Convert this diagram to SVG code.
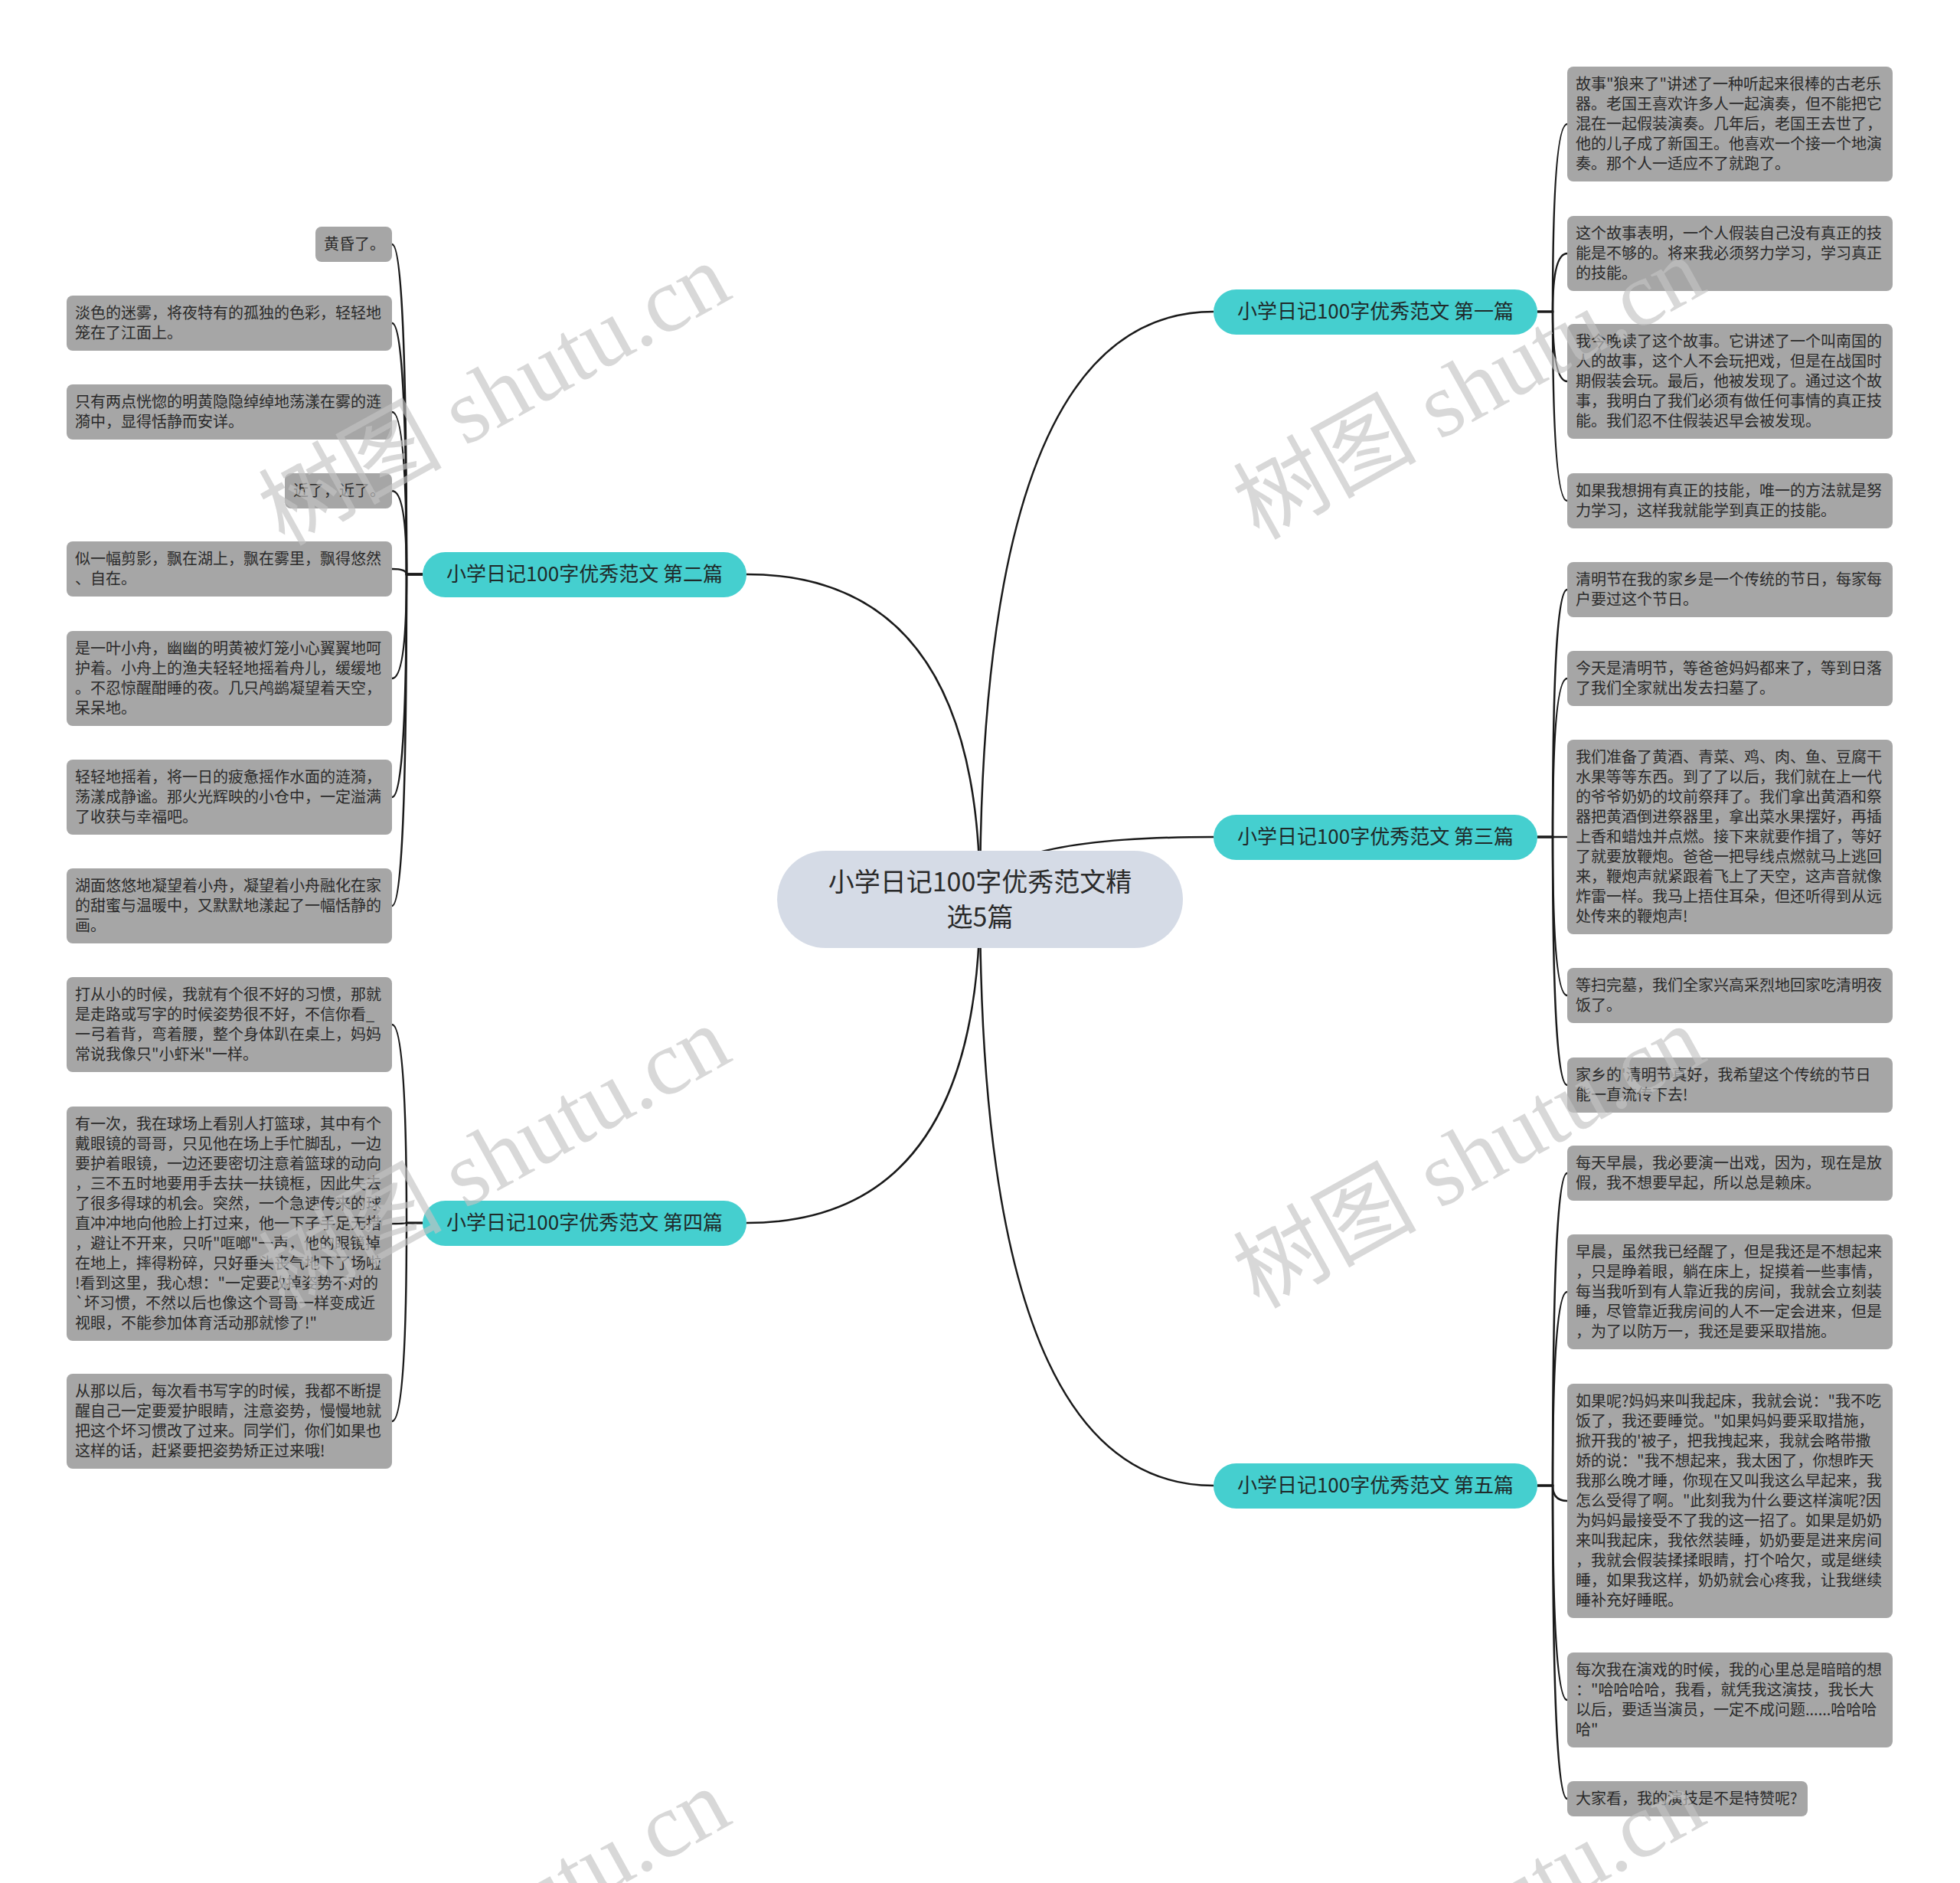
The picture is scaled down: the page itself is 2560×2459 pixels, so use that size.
<svg xmlns="http://www.w3.org/2000/svg" width="2560" height="2459" viewBox="0 0 2560 2459">
<style>
.bg{fill:#ffffff}
.leaf{fill:#a6a6a6}
.lt{font-family:"Noto Sans CJK SC","Noto Sans",sans-serif;font-size:20px;fill:#2a2a2a}
.l1{fill:#45cfcf}
.l1t{font-family:"Noto Sans CJK SC","Noto Sans",sans-serif;font-size:26px;fill:#1f2a2a;text-anchor:middle}
.root{fill:#d5dbe6}
.rt{font-family:"Noto Sans CJK SC","Noto Sans",sans-serif;font-size:34px;fill:#2a2a2a;text-anchor:middle}
.con{fill:none;stroke:#1a1a1a;stroke-width:2.5}
.wm{font-family:"Liberation Serif","Noto Sans CJK SC",serif;font-size:120px;fill:#c4c4c4;opacity:0.65;text-anchor:middle}
</style>
<rect class="bg" x="0" y="0" width="2560" height="2459"/>
<g id="connectors">
<path class="con" d="M1280 1174 Q1280 407 1585 407"/>
<path class="con" d="M1280 1174 Q1280 750 975 750"/>
<path class="con" d="M1280 1174 Q1280 1093 1585 1093"/>
<path class="con" d="M1280 1174 Q1280 1597 975 1597"/>
<path class="con" d="M1280 1174 Q1280 1940 1585 1940"/>
<path class="con" d="M2008 407 H2028 Q2028 162 2047 162"/>
<path class="con" d="M2008 407 H2028 Q2028 331 2047 331"/>
<path class="con" d="M2008 407 H2028 Q2028 498 2047 498"/>
<path class="con" d="M2008 407 H2028 Q2028 654 2047 654"/>
<path class="con" d="M2008 1093 H2028 Q2028 770 2047 770"/>
<path class="con" d="M2008 1093 H2028 Q2028 886 2047 886"/>
<path class="con" d="M2008 1093 H2047"/>
<path class="con" d="M2008 1093 H2028 Q2028 1300 2047 1300"/>
<path class="con" d="M2008 1093 H2028 Q2028 1417 2047 1417"/>
<path class="con" d="M2008 1940 H2028 Q2028 1532 2047 1532"/>
<path class="con" d="M2008 1940 H2028 Q2028 1687 2047 1687"/>
<path class="con" d="M2008 1940 H2028 Q2028 1960 2047 1960"/>
<path class="con" d="M2008 1940 H2028 Q2028 2220 2047 2220"/>
<path class="con" d="M2008 1940 H2028 Q2028 2349 2047 2349"/>
<path class="con" d="M552 750 H531 Q531 319 512 319"/>
<path class="con" d="M552 750 H531 Q531 422 512 422"/>
<path class="con" d="M552 750 H531 Q531 538 512 538"/>
<path class="con" d="M552 750 H531 Q531 641 512 641"/>
<path class="con" d="M552 750 H531 Q531 743 512 743"/>
<path class="con" d="M552 750 H531 Q531 886 512 886"/>
<path class="con" d="M552 750 H531 Q531 1041 512 1041"/>
<path class="con" d="M552 750 H531 Q531 1183 512 1183"/>
<path class="con" d="M552 1597 H531 Q531 1338 512 1338"/>
<path class="con" d="M552 1597 H531 Q531 1598 512 1598"/>
<path class="con" d="M552 1597 H531 Q531 1856 512 1856"/>
</g>
<g id="root">
<rect class="root" x="1015" y="1111" width="530" height="127" rx="63.5"/>
<text class="rt" x="1280" y="1164">小学日记100字优秀范文精</text>
<text class="rt" x="1280" y="1210">选5篇</text>
</g>
<g id="b1">
<rect class="l1" x="1585" y="378" width="423" height="59" rx="29.5"/>
<text class="l1t" x="1796.5" y="416">小学日记100字优秀范文 第一篇</text>
</g>
<g id="b2">
<rect class="l1" x="552" y="721" width="423" height="59" rx="29.5"/>
<text class="l1t" x="763.5" y="759">小学日记100字优秀范文 第二篇</text>
</g>
<g id="b3">
<rect class="l1" x="1585" y="1064" width="423" height="59" rx="29.5"/>
<text class="l1t" x="1796.5" y="1102">小学日记100字优秀范文 第三篇</text>
</g>
<g id="b4">
<rect class="l1" x="552" y="1568" width="423" height="59" rx="29.5"/>
<text class="l1t" x="763.5" y="1606">小学日记100字优秀范文 第四篇</text>
</g>
<g id="b5">
<rect class="l1" x="1585" y="1911" width="423" height="59" rx="29.5"/>
<text class="l1t" x="1796.5" y="1949">小学日记100字优秀范文 第五篇</text>
</g>
<g id="r1"><rect class="leaf" x="2047" y="87" width="425" height="150" rx="8"/>
<text class="lt" x="2058" y="117"><tspan x="2058">故事"狼来了"讲述了一种听起来很棒的古老乐</tspan><tspan x="2058" dy="26">器。老国王喜欢许多人一起演奏，但不能把它</tspan><tspan x="2058" dy="26">混在一起假装演奏。几年后，老国王去世了，</tspan><tspan x="2058" dy="26">他的儿子成了新国王。他喜欢一个接一个地演</tspan><tspan x="2058" dy="26">奏。那个人一适应不了就跑了。</tspan></text></g>
<g id="r2"><rect class="leaf" x="2047" y="282" width="425" height="98" rx="8"/>
<text class="lt" x="2058" y="312"><tspan x="2058">这个故事表明，一个人假装自己没有真正的技</tspan><tspan x="2058" dy="26">能是不够的。将来我必须努力学习，学习真正</tspan><tspan x="2058" dy="26">的技能。</tspan></text></g>
<g id="r3"><rect class="leaf" x="2047" y="423" width="425" height="150" rx="8"/>
<text class="lt" x="2058" y="453"><tspan x="2058">我今晚读了这个故事。它讲述了一个叫南国的</tspan><tspan x="2058" dy="26">人的故事，这个人不会玩把戏，但是在战国时</tspan><tspan x="2058" dy="26">期假装会玩。最后，他被发现了。通过这个故</tspan><tspan x="2058" dy="26">事，我明白了我们必须有做任何事情的真正技</tspan><tspan x="2058" dy="26">能。我们忍不住假装迟早会被发现。</tspan></text></g>
<g id="r4"><rect class="leaf" x="2047" y="618" width="425" height="72" rx="8"/>
<text class="lt" x="2058" y="648"><tspan x="2058">如果我想拥有真正的技能，唯一的方法就是努</tspan><tspan x="2058" dy="26">力学习，这样我就能学到真正的技能。</tspan></text></g>
<g id="r5"><rect class="leaf" x="2047" y="734" width="425" height="72" rx="8"/>
<text class="lt" x="2058" y="764"><tspan x="2058">清明节在我的家乡是一个传统的节日，每家每</tspan><tspan x="2058" dy="26">户要过这个节日。</tspan></text></g>
<g id="r6"><rect class="leaf" x="2047" y="850" width="425" height="72" rx="8"/>
<text class="lt" x="2058" y="880"><tspan x="2058">今天是清明节，等爸爸妈妈都来了，等到日落</tspan><tspan x="2058" dy="26">了我们全家就出发去扫墓了。</tspan></text></g>
<g id="r7"><rect class="leaf" x="2047" y="966" width="425" height="254" rx="8"/>
<text class="lt" x="2058" y="996"><tspan x="2058">我们准备了黄酒、青菜、鸡、肉、鱼、豆腐干</tspan><tspan x="2058" dy="26">水果等等东西。到了了以后，我们就在上一代</tspan><tspan x="2058" dy="26">的爷爷奶奶的坟前祭拜了。我们拿出黄酒和祭</tspan><tspan x="2058" dy="26">器把黄酒倒进祭器里，拿出菜水果摆好，再插</tspan><tspan x="2058" dy="26">上香和蜡烛并点燃。接下来就要作揖了，等好</tspan><tspan x="2058" dy="26">了就要放鞭炮。爸爸一把导线点燃就马上逃回</tspan><tspan x="2058" dy="26">来，鞭炮声就紧跟着飞上了天空，这声音就像</tspan><tspan x="2058" dy="26">炸雷一样。我马上捂住耳朵，但还听得到从远</tspan><tspan x="2058" dy="26">处传来的鞭炮声!</tspan></text></g>
<g id="r8"><rect class="leaf" x="2047" y="1264" width="425" height="72" rx="8"/>
<text class="lt" x="2058" y="1294"><tspan x="2058">等扫完墓，我们全家兴高采烈地回家吃清明夜</tspan><tspan x="2058" dy="26">饭了。</tspan></text></g>
<g id="r9"><rect class="leaf" x="2047" y="1381" width="425" height="72" rx="8"/>
<text class="lt" x="2058" y="1411"><tspan x="2058">家乡的'清明节真好，我希望这个传统的节日</tspan><tspan x="2058" dy="26">能一直流传下去!</tspan></text></g>
<g id="r10"><rect class="leaf" x="2047" y="1496" width="425" height="72" rx="8"/>
<text class="lt" x="2058" y="1526"><tspan x="2058">每天早晨，我必要演一出戏，因为，现在是放</tspan><tspan x="2058" dy="26">假，我不想要早起，所以总是赖床。</tspan></text></g>
<g id="r11"><rect class="leaf" x="2047" y="1612" width="425" height="150" rx="8"/>
<text class="lt" x="2058" y="1642"><tspan x="2058">早晨，虽然我已经醒了，但是我还是不想起来</tspan><tspan x="2058" dy="26">，只是睁着眼，躺在床上，捉摸着一些事情，</tspan><tspan x="2058" dy="26">每当我听到有人靠近我的房间，我就会立刻装</tspan><tspan x="2058" dy="26">睡，尽管靠近我房间的人不一定会进来，但是</tspan><tspan x="2058" dy="26">，为了以防万一，我还是要采取措施。</tspan></text></g>
<g id="r12"><rect class="leaf" x="2047" y="1807" width="425" height="306" rx="8"/>
<text class="lt" x="2058" y="1837"><tspan x="2058">如果呢?妈妈来叫我起床，我就会说："我不吃</tspan><tspan x="2058" dy="26">饭了，我还要睡觉。"如果妈妈要采取措施，</tspan><tspan x="2058" dy="26">掀开我的'被子，把我拽起来，我就会略带撒</tspan><tspan x="2058" dy="26">娇的说："我不想起来，我太困了，你想昨天</tspan><tspan x="2058" dy="26">我那么晚才睡，你现在又叫我这么早起来，我</tspan><tspan x="2058" dy="26">怎么受得了啊。"此刻我为什么要这样演呢?因</tspan><tspan x="2058" dy="26">为妈妈最接受不了我的这一招了。如果是奶奶</tspan><tspan x="2058" dy="26">来叫我起床，我依然装睡，奶奶要是进来房间</tspan><tspan x="2058" dy="26">，我就会假装揉揉眼睛，打个哈欠，或是继续</tspan><tspan x="2058" dy="26">睡，如果我这样，奶奶就会心疼我，让我继续</tspan><tspan x="2058" dy="26">睡补充好睡眠。</tspan></text></g>
<g id="r13"><rect class="leaf" x="2047" y="2158" width="425" height="124" rx="8"/>
<text class="lt" x="2058" y="2188"><tspan x="2058">每次我在演戏的时候，我的心里总是暗暗的想</tspan><tspan x="2058" dy="26">："哈哈哈哈，我看，就凭我这演技，我长大</tspan><tspan x="2058" dy="26">以后，要适当演员，一定不成问题......哈哈哈</tspan><tspan x="2058" dy="26">哈"</tspan></text></g>
<g id="r14"><rect class="leaf" x="2047" y="2326" width="314" height="46" rx="8"/>
<text class="lt" x="2058" y="2356">大家看，我的演技是不是特赞呢?</text></g>
<g id="l1"><rect class="leaf" x="412" y="296" width="100" height="46" rx="8"/>
<text class="lt" x="423" y="326">黄昏了。</text></g>
<g id="l2"><rect class="leaf" x="87" y="386" width="425" height="72" rx="8"/>
<text class="lt" x="98" y="416"><tspan x="98">淡色的迷雾，将夜特有的孤独的色彩，轻轻地</tspan><tspan x="98" dy="26">笼在了江面上。</tspan></text></g>
<g id="l3"><rect class="leaf" x="87" y="502" width="425" height="72" rx="8"/>
<text class="lt" x="98" y="532"><tspan x="98">只有两点恍惚的明黄隐隐绰绰地荡漾在雾的涟</tspan><tspan x="98" dy="26">漪中，显得恬静而安详。</tspan></text></g>
<g id="l4"><rect class="leaf" x="372" y="618" width="140" height="46" rx="8"/>
<text class="lt" x="383" y="648">近了，近了。</text></g>
<g id="l5"><rect class="leaf" x="87" y="707" width="425" height="72" rx="8"/>
<text class="lt" x="98" y="737"><tspan x="98">似一幅剪影，飘在湖上，飘在雾里，飘得悠然</tspan><tspan x="98" dy="26">、自在。</tspan></text></g>
<g id="l6"><rect class="leaf" x="87" y="824" width="425" height="124" rx="8"/>
<text class="lt" x="98" y="854"><tspan x="98">是一叶小舟，幽幽的明黄被灯笼小心翼翼地呵</tspan><tspan x="98" dy="26">护着。小舟上的渔夫轻轻地摇着舟儿，缓缓地</tspan><tspan x="98" dy="26">。不忍惊醒酣睡的夜。几只鸬鹚凝望着天空，</tspan><tspan x="98" dy="26">呆呆地。</tspan></text></g>
<g id="l7"><rect class="leaf" x="87" y="992" width="425" height="98" rx="8"/>
<text class="lt" x="98" y="1022"><tspan x="98">轻轻地摇着，将一日的疲惫摇作水面的涟漪，</tspan><tspan x="98" dy="26">荡漾成静谧。那火光辉映的小仓中，一定溢满</tspan><tspan x="98" dy="26">了收获与幸福吧。</tspan></text></g>
<g id="l8"><rect class="leaf" x="87" y="1134" width="425" height="98" rx="8"/>
<text class="lt" x="98" y="1164"><tspan x="98">湖面悠悠地凝望着小舟，凝望着小舟融化在家</tspan><tspan x="98" dy="26">的甜蜜与温暖中，又默默地漾起了一幅恬静的</tspan><tspan x="98" dy="26">画。</tspan></text></g>
<g id="l9"><rect class="leaf" x="87" y="1276" width="425" height="124" rx="8"/>
<text class="lt" x="98" y="1306"><tspan x="98">打从小的时候，我就有个很不好的习惯，那就</tspan><tspan x="98" dy="26">是走路或写字的时候姿势很不好，不信你看_</tspan><tspan x="98" dy="26">一弓着背，弯着腰，整个身体趴在桌上，妈妈</tspan><tspan x="98" dy="26">常说我像只"小虾米"一样。</tspan></text></g>
<g id="l10"><rect class="leaf" x="87" y="1445" width="425" height="306" rx="8"/>
<text class="lt" x="98" y="1475"><tspan x="98">有一次，我在球场上看别人打篮球，其中有个</tspan><tspan x="98" dy="26">戴眼镜的哥哥，只见他在场上手忙脚乱，一边</tspan><tspan x="98" dy="26">要护着眼镜，一边还要密切注意着篮球的动向</tspan><tspan x="98" dy="26">，三不五时地要用手去扶一扶镜框，因此失去</tspan><tspan x="98" dy="26">了很多得球的机会。突然，一个急速传来的球</tspan><tspan x="98" dy="26">直冲冲地向他脸上打过来，他一下子手足无措</tspan><tspan x="98" dy="26">，避让不开来，只听"哐啷"一声，他的眼镜掉</tspan><tspan x="98" dy="26">在地上，摔得粉碎，只好垂头丧气地下了场啦</tspan><tspan x="98" dy="26">!看到这里，我心想："一定要改掉姿势不对的</tspan><tspan x="98" dy="26">`坏习惯，不然以后也像这个哥哥一样变成近</tspan><tspan x="98" dy="26">视眼，不能参加体育活动那就惨了!"</tspan></text></g>
<g id="l11"><rect class="leaf" x="87" y="1794" width="425" height="124" rx="8"/>
<text class="lt" x="98" y="1824"><tspan x="98">从那以后，每次看书写字的时候，我都不断提</tspan><tspan x="98" dy="26">醒自己一定要爱护眼睛，注意姿势，慢慢地就</tspan><tspan x="98" dy="26">把这个坏习惯改了过来。同学们，你们如果也</tspan><tspan x="98" dy="26">这样的话，赶紧要把姿势矫正过来哦!</tspan></text></g>
<g id="watermarks">
<text class="wm" x="645" y="556" transform="rotate(-29 645 514)">树图 shutu.cn</text>
<text class="wm" x="1918" y="548" transform="rotate(-29 1918 506)">树图 shutu.cn</text>
<text class="wm" x="645" y="1552" transform="rotate(-29 645 1510)">树图 shutu.cn</text>
<text class="wm" x="1918" y="1552" transform="rotate(-29 1918 1510)">树图 shutu.cn</text>
<text class="wm" x="645" y="2548" transform="rotate(-29 645 2506)">树图 shutu.cn</text>
<text class="wm" x="1918" y="2548" transform="rotate(-29 1918 2506)">树图 shutu.cn</text>
</g>
</svg>
